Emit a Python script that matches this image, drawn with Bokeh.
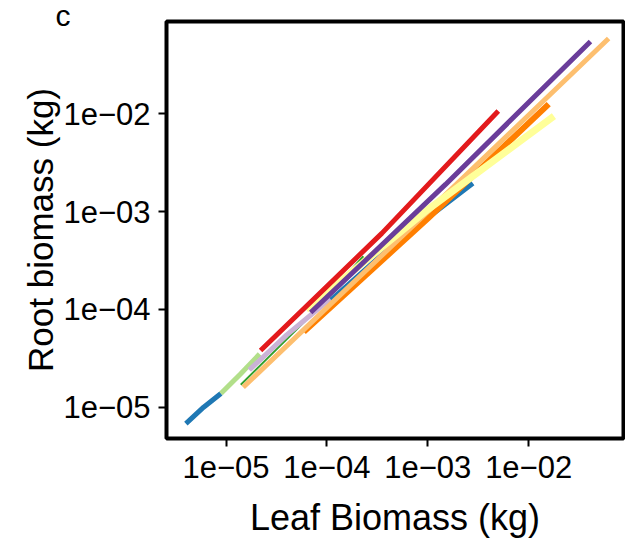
from bokeh.plotting import figure
from bokeh.models import FixedTicker, Title
from bokeh.embed import file_html
from bokeh.resources import INLINE

# Growth trajectories (leaf vs root biomass, kg)
series_names = ["blue_a", "lightgreen", "darkgreen", "lavender", "blue_b",
                "orange", "lightorange", "yellow", "purple", "red"]
series_colors = ["#1f78b4", "#b2df8a", "#33a02c", "#cab2d6", "#1f78b4",
                 "#ff7f00", "#fdbf6f", "#ffff99", "#6a3d9a", "#e31a1c"]

blue_a_x = [4.0e-06, 6.0e-06, 8.9e-06]
blue_a_y = [6.8e-06, 1.0e-05, 1.38e-05]
lightgreen_x = [8.9e-06, 1.4e-05, 2.15e-05]
lightgreen_y = [1.38e-05, 2.2e-05, 3.5e-05]
darkgreen_x = [1.4e-05, 6.0e-05, 2.3e-04]
darkgreen_y = [1.7e-05, 7.5e-05, 3.5e-04]
lavender_x = [1.7e-05, 4.0e-05, 1.1e-04]
lavender_y = [2.4e-05, 5.5e-05, 1.3e-04]
blue_b_x = [1.1e-04, 5.0e-04, 2.8e-03]
blue_b_y = [1.25e-04, 5.0e-04, 1.95e-03]
orange_x = [5.9e-05, 1.0e-03, 1.58e-02]
orange_y = [5.9e-05, 8.5e-04, 1.26e-02]
lightorange_x = [1.48e-05, 1.0e-03, 6.2e-02]
lightorange_y = [1.6e-05, 1.0e-03, 5.9e-02]
yellow_x = [6.2e-05, 1.0e-03, 1.78e-02]
yellow_y = [1.0e-04, 1.05e-03, 9.5e-03]
purple_x = [6.9e-05, 1.5e-03, 4.1e-02]
purple_y = [9.3e-05, 1.9e-03, 5.5e-02]
red_x = [2.2e-05, 3.5e-04, 5.0e-03]
red_y = [3.8e-05, 6.0e-04, 1.07e-02]

series_x = [blue_a_x, lightgreen_x, darkgreen_x, lavender_x, blue_b_x,
            orange_x, lightorange_x, yellow_x, purple_x, red_x]
series_y = [blue_a_y, lightgreen_y, darkgreen_y, lavender_y, blue_b_y,
            orange_y, lightorange_y, yellow_y, purple_y, red_y]
series_widths = [5, 5, 2, 5, 5, 6, 5, 7, 5, 5]

tick_values = [1e-05, 1e-04, 1e-03, 1e-02]
tick_labels = ["1e\u221205", "1e\u221204", "1e\u221203", "1e\u221202"]
panel_letter = "c"

FONT = "Liberation Sans"

p = figure(width=625, height=540, x_axis_type="log", y_axis_type="log",
           x_range=(10 ** -5.59, 10 ** -1.06), y_range=(10 ** -5.32, 10 ** -1.055),
           output_backend="svg", toolbar_location=None,
           min_border_left=166, min_border_right=2, min_border_top=21,
           min_border_bottom=102)

p.title = Title(text=panel_letter, align="left", offset=-111, standoff=-21,
                text_font=FONT, text_font_size="30px", text_font_style="normal",
                text_color="black")

for xs, ys, c, w in zip(series_x, series_y, series_colors, series_widths):
    p.line(xs, ys, line_color=c, line_width=w, line_cap="butt")

p.xgrid.visible = False
p.ygrid.visible = False
p.outline_line_color = "black"
p.outline_line_width = 4
p.background_fill_color = "white"
p.border_fill_color = "white"

for ax in (p.xaxis[0], p.yaxis[0]):
    ax.ticker = FixedTicker(ticks=tick_values)
    ax.major_label_overrides = dict(zip(tick_values, tick_labels))
    ax.minor_tick_line_color = None
    ax.major_tick_in = 0
    ax.major_tick_out = 8
    ax.major_tick_line_width = 2
    ax.major_tick_line_color = "black"
    ax.axis_line_color = None
    ax.major_label_text_font = FONT
    ax.major_label_text_font_size = "31px"
    ax.major_label_text_color = "black"
    ax.axis_label_text_font = FONT
    ax.axis_label_text_font_style = "normal"
    ax.axis_label_text_color = "black"

p.xaxis[0].axis_label = "Leaf Biomass (kg)"
p.yaxis[0].axis_label = "Root biomass (kg)"
p.xaxis[0].axis_label_text_font_size = "36px"
p.yaxis[0].axis_label_text_font_size = "35px"
p.xaxis[0].major_label_standoff = 9
p.xaxis[0].axis_label_standoff = 16
p.yaxis[0].major_label_standoff = 8
p.yaxis[0].axis_label_standoff = 0

open("out.html", "w").write(file_html(p, INLINE))
